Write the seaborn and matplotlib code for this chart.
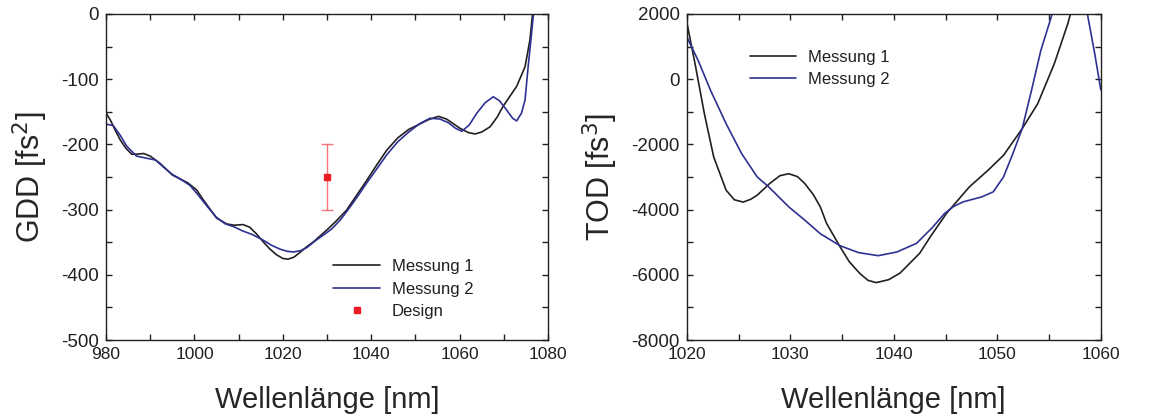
import matplotlib
matplotlib.use('Agg')
import matplotlib.pyplot as plt
from matplotlib.ticker import MultipleLocator
import seaborn as sns

# GDD measurements (left panel)
GDD1_WL = [980, 981.0, 982.2, 983.2, 984.5, 985.8, 987.0, 988.5, 990.0, 992.2, 995.0, 998.5,
           1000.5, 1002.0, 1003.5, 1005.0, 1007.3, 1009.0, 1011.0, 1012.5, 1014.0, 1015.5,
           1017.0, 1018.5, 1020.0, 1021.2, 1022.5, 1024.0, 1025.4, 1027.0, 1030.0, 1032.0,
           1034.4, 1036.0, 1039.0, 1041.0, 1043.5, 1046.0, 1048.5, 1050.3, 1053.0, 1055.2,
           1057.0, 1060.0, 1062.0, 1063.5, 1065.0, 1066.9, 1068.5, 1069.8, 1071.5, 1072.9,
           1074.8, 1075.9, 1076.5, 1077.0]
GDD1 = [-152, -163, -180, -193, -206, -215, -215, -214, -218, -229, -247, -259,
        -270, -285, -299, -313, -322, -324, -323, -327, -337, -349,
        -360, -369, -375, -376, -373, -365, -357, -349, -331, -318,
        -301, -285, -255, -234, -209, -190, -177, -171, -162, -157,
        -161, -175, -182, -184, -181, -173, -158, -142, -125, -111,
        -81, -40, 0, 30]

GDD2_WL = [980, 981.6, 983.2, 984.7, 986.9, 989.0, 991.2, 993.0, 995.0, 997.0, 999.0,
           1001.0, 1003.0, 1005.0, 1007.0, 1008.8, 1011.0, 1013.0, 1015.6, 1017.5, 1019.5,
           1021.0, 1022.4, 1024.0, 1025.5, 1027.5, 1029.0, 1031.0, 1033.0, 1035.0, 1037.0,
           1039.0, 1041.0, 1043.5, 1046.0, 1048.5, 1051.0, 1053.3, 1055.5, 1057.5, 1059.0,
           1060.5, 1062.2, 1063.9, 1065.8, 1067.6, 1069.0, 1070.6, 1072.0, 1072.9, 1074.0,
           1074.8, 1075.5, 1076.2, 1076.7, 1077.2]
GDD2 = [-169, -171, -186, -203, -218, -221, -224, -235, -246, -254, -263,
        -279, -296, -312, -322, -326, -333, -338, -347, -355, -361,
        -364, -365, -363, -358, -347, -340, -330, -316, -298, -279,
        -259, -240, -216, -196, -181, -168, -160, -161, -167, -175,
        -180, -170, -152, -136, -127, -133, -147, -160, -164, -152,
        -132, -81, -35, 0, 30]

# design value with tolerance
DESIGN_WL = [1030]
DESIGN_GDD = [-250]
DESIGN_ERR = [50]

# TOD measurements (right panel)
TOD1_WL = [1020.0, 1020.8, 1021.7, 1022.6, 1023.8, 1024.6, 1025.45, 1026.2, 1026.8, 1028.0,
           1029.0, 1029.85, 1030.7, 1031.4, 1032.2, 1032.9, 1033.5, 1034.8, 1035.7, 1036.7,
           1037.5, 1038.3, 1039.5, 1040.6, 1042.5, 1043.6, 1045.1, 1047.3, 1049.1, 1050.6,
           1052.4, 1053.9, 1055.5, 1056.8, 1057.5]
TOD1 = [1750, 470, -1060, -2386, -3406, -3700, -3770, -3680, -3559, -3202,
        -2960, -2900, -2990, -3202, -3530, -3916, -4420, -5138, -5600, -5954,
        -6170, -6240, -6150, -5948, -5340, -4800, -4113, -3304, -2794, -2335,
        -1519, -754, 470, 1694, 2500]

TOD2_WL = [1020.0, 1021.1, 1022.3, 1023.8, 1025.3, 1026.8, 1027.9, 1029.85, 1031.4, 1032.9,
           1034.8, 1036.6, 1038.5, 1040.3, 1042.2, 1043.7, 1044.9, 1045.8, 1046.7, 1048.5,
           1049.6, 1050.6, 1051.5, 1052.4, 1053.3, 1054.2, 1055.3, 1056.0, 1057.0, 1058.0,
           1058.7, 1059.4, 1060.0]
TOD2 = [1300, 572, -346, -1366, -2284, -2998, -3300, -3916, -4324, -4740,
        -5107, -5320, -5414, -5300, -5034, -4560, -4120, -3900, -3763, -3610,
        -3457, -2998, -2284, -1519, -346, 878, 2000, 2800, 3200, 2800,
        2000, 800, -331]

LABELS = ['Messung 1', 'Messung 2', 'Design']
BLACK = '#231f20'
BLUE = '#2e3192'
RED = '#ed1c24'

FONT = ['Liberation Sans', 'DejaVu Sans']

sns.set_style('ticks')
plt.rcParams['font.family'] = FONT
plt.rcParams['axes.unicode_minus'] = False
plt.rcParams['xtick.direction'] = 'in'
plt.rcParams['ytick.direction'] = 'in'
plt.rcParams['axes.linewidth'] = 1.0
plt.rcParams['text.color'] = BLACK


def style_axes(ax, xlim, ylim, xmaj, xmin, ymaj, ymin):
    """Origin-like frame: inward ticks on all four sides."""
    ax.set_xlim(*xlim)
    ax.set_ylim(*ylim)
    ax.xaxis.set_major_locator(MultipleLocator(xmaj))
    ax.xaxis.set_minor_locator(MultipleLocator(xmin))
    ax.yaxis.set_major_locator(MultipleLocator(ymaj))
    ax.yaxis.set_minor_locator(MultipleLocator(ymin))
    for which in ('major', 'minor'):
        ax.tick_params(which=which, top=True, right=True, length=4.5, width=1.0, color=BLACK)
    ax.tick_params(axis='x', pad=5, labelsize=12.5, labelcolor=BLACK)
    ax.tick_params(axis='y', pad=5, labelsize=13.5, labelcolor=BLACK)
    for sp in ax.spines.values():
        sp.set_visible(True)
        sp.set_color(BLACK)
    ax.set_xlabel('Wellenlänge [nm]', fontsize=21, labelpad=17)


fig = plt.figure(figsize=(11.68, 4.18), dpi=100)
ax1 = fig.add_axes([0.0908, 0.1866, 0.3784, 0.78])
ax2 = fig.add_axes([0.588, 0.1866, 0.3545, 0.78])

legend_kw = dict(loc='upper left', frameon=False, borderpad=0, borderaxespad=0,
                 handlelength=2.8, handletextpad=0.7, labelspacing=0.45, numpoints=1,
                 prop={'size': 12})

# left: GDD
sns.lineplot(x=GDD1_WL, y=GDD1, ax=ax1, color=BLACK, lw=1.2, sort=False, estimator=None, label=LABELS[0])
sns.lineplot(x=GDD2_WL, y=GDD2, ax=ax1, color=BLUE, lw=1.2, sort=False, estimator=None, label=LABELS[1])
ax1.errorbar(DESIGN_WL, DESIGN_GDD, yerr=DESIGN_ERR, fmt='none', ecolor=RED, alpha=0.6,
             elinewidth=1.0, capsize=4, capthick=1.0)
ax1.plot(DESIGN_WL, DESIGN_GDD, ls='none', marker='s', ms=4, color=RED, label=LABELS[2])
style_axes(ax1, (980, 1080), (-500, 0), 20, 10, 100, 50)
ax1.set_ylabel('GDD [fs$^2$]', fontsize=22, labelpad=8)
ax1.legend(bbox_to_anchor=(0.514, 0.248), **legend_kw)

# right: TOD
sns.lineplot(x=TOD1_WL, y=TOD1, ax=ax2, color=BLACK, lw=1.2, sort=False, estimator=None, label=LABELS[0])
sns.lineplot(x=TOD2_WL, y=TOD2, ax=ax2, color=BLUE, lw=1.2, sort=False, estimator=None, label=LABELS[1])
style_axes(ax2, (1020, 1060), (-8000, 2000), 10, 5, 2000, 1000)
ax2.set_ylabel('TOD [fs$^3$]', fontsize=22, labelpad=8)
ax2.legend(bbox_to_anchor=(0.152, 0.89), **legend_kw)

fig.savefig('out.png', dpi=100)
